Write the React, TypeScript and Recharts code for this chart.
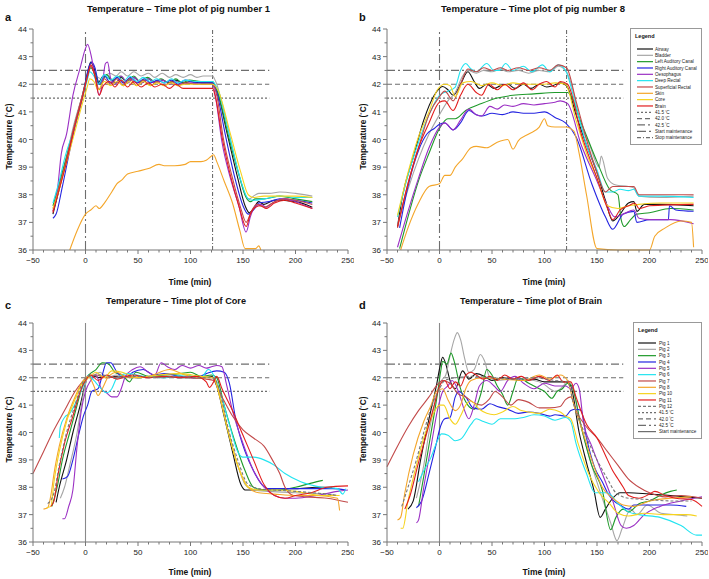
import React from "react";
import { LineChart, Line, XAxis, YAxis, ReferenceLine, Legend } from "recharts";

const FONT = "'Liberation Sans', Arial, sans-serif";

const X_TICKS = [-50, -40, -30, -20, -10, 0, 10, 20, 30, 40, 50, 60, 70, 80, 90, 100, 110, 120, 130, 140, 150, 160, 170, 180, 190, 200, 210, 220, 230, 240, 250];
const Y_TICKS = [36, 36.5, 37, 37.5, 38, 38.5, 39, 39.5, 40, 40.5, 41, 41.5, 42, 42.5, 43, 43.5, 44];
const THRESHOLDS = [41.5, 42.0, 42.5];

// colours shared by both legends (site / pig)
const C = {
  black: "#111111",
  grey: "#a6a6a6",
  green: "#1f9a2a",
  blue: "#2424e0",
  purple: "#9b30c4",
  cyan: "#22e4f0",
  brick: "#c24a4a",
  orange: "#f4a62a",
  yellow: "#f6d31e",
  red: "#e21e1e",
  dgrey: "#777777",
};

// ---- panel a: pig number 1 ----
const aAirway = [[-31,37.3],[-25,38.2],[-20,39.0],[-10,40.6],[-3,41.6],[2,42.4],[5,42.8],[8,42.6],[12,42.05],[17,42.3],[23,42.2],[29,42.05],[34,42.25],[40,42.05],[46,42.25],[53,42.05],[60,42.2],[66,42.05],[73,42.15],[80,42.05],[86,42.15],[93,42.05],[100,42.1],[110,42.05],[121,42.05],[125,41.8],[135,40.2],[145,38.6],[152,37.6],[156,37.35],[160,37.5],[165,37.75],[170,37.65],[180,37.8],[200,37.75],[216,37.55]];
const aBladder = [[-31,37.5],[-25,38.4],[-20,39.1],[-10,40.7],[-3,41.6],[2,42.3],[5,42.6],[10,42.3],[15,42.2],[23,42.4],[29,42.3],[34,42.45],[40,42.3],[46,42.45],[53,42.3],[60,42.4],[66,42.25],[73,42.4],[80,42.25],[86,42.35],[93,42.25],[100,42.35],[106,42.25],[112,42.3],[121,42.3],[124,42.1],[135,40.5],[145,38.9],[152,38.0],[156,37.85],[160,37.95],[165,38.05],[175,38.05],[185,38.1],[200,38.05],[216,37.95]];
const aLeftAud = [[-31,37.6],[-25,38.4],[-20,39.1],[-10,40.5],[-3,41.5],[2,42.3],[5,42.6],[10,42.3],[14,42.0],[20,42.35],[26,42.15],[33,42.3],[39,42.1],[46,42.3],[52,42.1],[59,42.25],[66,42.1],[72,42.2],[79,42.05],[86,42.2],[92,42.05],[99,42.15],[110,42.1],[121,42.1],[125,41.8],[137,40.0],[147,38.6],[153,37.9],[157,37.75],[162,37.85],[170,37.85],[185,37.95],[200,37.85],[216,37.75]];
const aRightAud = [[-31,37.15],[-28,37.3],[-22,38.3],[-15,39.6],[-8,40.8],[-2,41.7],[3,42.6],[6,42.8],[9,42.6],[13,42.0],[18,42.3],[24,42.05],[30,42.25],[36,42.05],[43,42.25],[49,42.05],[56,42.2],[62,42.05],[69,42.15],[75,42.05],[82,42.15],[88,42.0],[95,42.15],[105,42.05],[121,42.05],[125,41.7],[133,40.2],[143,38.5],[150,37.6],[155,37.3],[160,37.45],[165,37.7],[175,37.75],[185,37.85],[200,37.8],[216,37.7]];
const aOesoph = [[-31,37.4],[-27,38.1],[-23,39.5],[-18,40.2],[-12,41.6],[-5,42.6],[0,43.3],[2,43.45],[5,43.1],[9,42.3],[13,41.6],[16,42.0],[19,42.75],[21,42.8],[24,42.2],[28,42.0],[34,42.3],[40,42.05],[46,42.25],[53,42.05],[60,42.2],[66,42.05],[73,42.15],[80,42.0],[86,42.1],[93,42.0],[100,42.05],[110,42.0],[121,42.0],[124,41.5],[130,39.9],[138,38.6],[146,37.6],[153,36.65],[157,37.2],[162,37.6],[167,37.65],[172,37.55],[180,37.75],[190,37.85],[200,37.75],[216,37.5]];
const aDeepRect = [[-31,37.7],[-25,38.5],[-20,39.3],[-10,40.5],[-3,41.5],[2,42.2],[4,42.45],[8,42.3],[12,42.0],[18,42.35],[24,42.15],[30,42.3],[36,42.1],[42,42.3],[49,42.1],[55,42.25],[62,42.1],[68,42.2],[75,42.05],[82,42.2],[88,42.05],[95,42.15],[105,42.1],[121,42.1],[126,41.8],[138,40.0],[148,38.5],[155,37.85],[160,37.8],[170,37.85],[185,37.95],[200,37.9],[216,37.9]];
const aSupRect = [[-31,37.4],[-25,38.3],[-20,39.0],[-10,40.6],[-3,41.6],[2,42.3],[5,42.65],[9,42.3],[13,41.8],[18,42.2],[24,42.0],[30,42.2],[36,41.95],[42,42.2],[49,41.95],[55,42.15],[62,41.95],[68,42.1],[75,41.95],[82,42.1],[88,41.95],[95,42.05],[105,42.0],[121,42.0],[125,41.6],[131,40.1],[140,38.6],[148,37.5],[153,37.0],[158,37.4],[163,37.65],[170,37.55],[180,37.75],[190,37.85],[200,37.8],[216,37.65]];
const aSkin = [[-15,36.0],[-8,36.7],[0,37.3],[5,37.45],[10,37.6],[13,37.5],[18,37.7],[25,38.1],[30,38.4],[35,38.55],[40,38.75],[50,38.85],[60,38.95],[70,39.1],[75,39.05],[85,39.05],[95,39.1],[100,39.2],[110,39.2],[115,39.25],[120,39.4],[122,39.45],[125,39.2],[132,38.5],[140,37.7],[147,36.7],[152,36.05],[158,36.05],[162,36.05],[165,36.15],[167,36.0]];
const aCore = [[-31,37.5],[-25,38.2],[-20,38.9],[-10,40.3],[-3,41.3],[2,41.95],[4,42.2],[8,42.1],[12,41.8],[18,42.1],[24,41.95],[30,42.1],[36,41.95],[42,42.1],[49,41.95],[55,42.1],[62,41.95],[68,42.05],[75,41.95],[82,42.05],[88,41.95],[95,42.0],[110,42.0],[121,42.0],[126,41.8],[138,40.2],[148,38.8],[155,38.0],[160,37.9],[170,37.95],[185,37.95],[200,37.95],[216,37.9]];
const aBrain = [[-31,37.35],[-25,38.2],[-20,38.9],[-10,40.5],[-3,41.5],[2,42.3],[5,42.7],[9,42.3],[13,41.6],[17,41.95],[23,42.1],[28,41.9],[34,42.15],[40,41.9],[46,42.1],[53,41.9],[60,42.05],[66,41.9],[73,42.0],[80,41.85],[86,42.0],[93,41.85],[100,41.85],[110,41.85],[121,41.85],[124,41.5],[130,40.1],[138,38.7],[146,37.6],[153,36.85],[157,37.3],[162,37.55],[167,37.6],[172,37.5],[180,37.7],[190,37.8],[200,37.7],[216,37.5]];

// ---- panel b: pig number 8 ----
const bAirway = [[-40,36.85],[-35,38.0],[-25,39.35],[-15,40.7],[-5,41.6],[3,41.92],[8,41.8],[13,41.6],[20,42.0],[27,42.45],[33,42.1],[38,41.85],[45,42.0],[52,41.85],[58,41.95],[65,42.0],[72,41.85],[80,42.0],[87,41.85],[95,42.0],[102,41.9],[108,41.95],[115,42.05],[121,41.95],[130,40.9],[140,39.8],[150,38.8],[158,37.8],[165,37.05],[172,37.3],[180,37.7],[185,37.75],[188,37.4],[195,37.65],[210,37.65],[242,37.6]];
const bBladder = [[-40,36.9],[-30,38.2],[-20,39.3],[-10,40.2],[0,40.9],[8,41.4],[15,41.7],[22,42.3],[27,42.5],[35,42.4],[42,42.5],[50,42.45],[58,42.55],[65,42.45],[75,42.5],[85,42.4],[95,42.5],[105,42.45],[113,42.65],[121,42.45],[127,41.8],[134,40.6],[143,39.8],[152,39.0],[154,39.4],[160,38.6],[168,38.35],[180,38.3],[185,38.25],[190,37.95],[210,37.9],[242,37.95]];
const bLeftAud = [[-38,36.05],[-30,37.2],[-20,38.5],[-10,39.5],[0,40.4],[8,40.75],[15,40.75],[25,41.05],[40,41.3],[55,41.5],[70,41.6],[90,41.65],[110,41.7],[122,41.7],[135,40.6],[150,39.2],[162,38.2],[170,38.0],[173,37.1],[176,36.85],[182,37.1],[188,37.3],[200,37.35],[220,37.5],[242,37.45]];
const bRightAud = [[-38,36.8],[-30,38.3],[-20,39.6],[-12,40.2],[-5,40.4],[0,40.55],[5,40.6],[13,40.35],[20,40.6],[28,41.05],[35,40.9],[40,40.85],[50,40.95],[60,40.9],[70,41.0],[80,40.95],[90,40.95],[100,41.0],[110,40.8],[120,40.6],[130,40.1],[145,38.4],[158,37.2],[165,36.75],[175,37.3],[185,37.4],[188,37.0],[200,37.1],[218,37.1],[219,37.6],[225,37.45],[242,37.4]];
const bOesoph = [[-40,36.1],[-30,37.4],[-20,38.6],[-10,39.7],[0,40.45],[5,40.6],[13,40.35],[20,40.7],[28,41.1],[35,40.9],[40,40.85],[48,41.2],[55,41.1],[62,41.25],[70,41.2],[80,41.3],[90,41.25],[100,41.3],[110,41.35],[115,41.4],[122,41.3],[135,39.8],[150,38.5],[160,37.6],[167,37.2],[175,37.3],[185,37.45],[190,37.15],[200,37.1],[220,37.1],[242,36.95]];
const bDeepRect = [[-40,37.2],[-30,38.7],[-20,39.9],[-10,40.9],[0,41.6],[8,41.75],[15,41.9],[20,42.5],[25,42.75],[30,42.55],[35,42.45],[45,42.75],[52,42.5],[57,42.5],[63,42.75],[70,42.5],[80,42.65],[88,42.45],[98,42.7],[105,42.45],[113,42.7],[120,42.5],[130,41.2],[140,39.8],[150,38.9],[158,38.1],[165,38.1],[172,38.2],[180,38.15],[185,38.2],[190,37.95],[210,37.95],[242,37.9]];
const bSupRect = [[-40,36.8],[-30,38.4],[-20,39.7],[-10,40.9],[0,41.55],[5,41.75],[13,41.4],[20,42.0],[27,42.55],[35,42.45],[42,42.6],[50,42.5],[58,42.6],[65,42.5],[75,42.6],[85,42.5],[95,42.6],[105,42.5],[113,42.7],[121,42.6],[130,41.4],[140,40.0],[150,38.8],[158,38.1],[165,38.3],[175,38.3],[185,38.3],[190,38.0],[210,38.0],[242,38.0]];
const bSkin = [[-37,36.0],[-30,36.8],[-20,37.7],[-10,38.3],[0,38.4],[5,38.7],[10,38.7],[15,39.0],[22,39.3],[30,39.7],[35,39.75],[45,39.7],[55,39.9],[65,40.0],[70,39.65],[75,39.95],[85,40.2],[95,40.45],[100,40.75],[103,40.5],[110,40.45],[120,40.45],[128,40.3],[133,39.5],[140,38.0],[150,36.05],[170,36.0],[190,36.0],[200,36.0],[205,36.5],[215,36.8],[230,37.05],[240,37.0],[242,36.1]];
const bCore = [[-40,37.25],[-30,38.8],[-20,40.1],[-10,41.0],[-2,41.8],[5,42.0],[10,41.95],[15,41.55],[22,42.05],[30,42.1],[40,41.95],[50,42.05],[60,41.95],[70,42.05],[80,42.0],[90,42.0],[100,42.0],[110,42.05],[120,42.0],[130,40.7],[140,39.5],[150,38.6],[160,37.6],[170,37.5],[180,37.6],[190,37.65],[210,37.7],[242,37.7]];
const bBrain = [[-40,36.85],[-30,38.4],[-20,39.7],[-10,40.6],[0,41.35],[5,41.4],[13,41.05],[20,41.6],[27,42.0],[35,41.7],[40,41.6],[47,42.0],[55,41.8],[62,42.0],[70,41.8],[80,42.05],[88,41.8],[95,42.0],[102,42.1],[110,41.9],[115,42.1],[122,42.0],[135,40.2],[150,38.6],[160,37.5],[165,37.1],[172,37.45],[180,37.6],[186,37.7],[190,37.5],[200,37.6],[242,37.65]];

// ---- panel c: core temperature, all pigs ----
const cPig1 = [[-28,37.45],[-25,38.0],[-18,39.0],[-12,40.0],[-5,41.0],[0,41.8],[3,42.1],[8,42.05],[15,42.0],[30,42.05],[50,42.0],[70,42.05],[90,42.0],[110,42.0],[120,42.05],[125,41.7],[132,40.6],[140,39.3],[148,38.1],[152,37.9],[165,37.9],[180,37.95],[200,37.95],[220,38.0],[235,38.0]];
const cPig2 = [[-24,37.6],[-20,38.0],[-15,38.8],[-8,40.0],[-3,41.2],[2,42.0],[8,42.1],[14,42.2],[20,42.0],[30,42.1],[50,42.0],[70,42.05],[90,42.0],[110,42.05],[122,42.0],[127,41.5],[135,40.2],[145,38.8],[152,38.1],[160,37.9],[175,37.85],[200,37.8],[230,37.75],[240,37.7]];
const cPig3 = [[-32,37.3],[-27,38.0],[-22,39.0],[-15,40.0],[-8,41.0],[-2,41.8],[3,42.1],[10,42.3],[16,42.55],[22,42.5],[28,42.2],[35,42.1],[42,41.85],[48,42.2],[60,42.05],[75,42.1],[90,42.15],[100,42.2],[110,42.05],[120,42.1],[125,42.0],[132,41.0],[142,39.7],[152,38.6],[160,38.0],[170,37.9],[185,37.9],[200,38.0],[215,38.15],[226,38.25]];
const cPig4 = [[-22,38.3],[-17,38.4],[-12,39.0],[-6,40.0],[-2,40.6],[2,41.0],[6,41.5],[12,41.6],[16,42.1],[20,42.55],[24,42.55],[30,42.2],[38,42.0],[45,42.2],[55,42.3],[65,42.1],[75,42.15],[90,42.05],[105,42.0],[115,42.15],[125,42.25],[132,42.2],[137,41.8],[143,40.5],[152,39.3],[160,38.6],[168,38.1],[175,37.95],[190,37.95],[210,37.95],[235,37.95],[248,37.9]];
const cPig5 = [[-22,36.85],[-20,36.85],[-16,37.3],[-12,37.9],[-8,39.5],[-4,40.8],[0,41.5],[5,41.9],[10,42.1],[15,41.6],[20,41.45],[25,41.3],[30,41.3],[34,41.6],[38,42.05],[45,42.3],[52,42.4],[60,42.2],[66,42.1],[72,42.55],[78,42.4],[85,42.3],[92,42.45],[100,42.35],[108,42.45],[115,42.35],[120,42.4],[125,42.45],[130,42.4],[134,41.8],[140,40.8],[150,39.6],[160,38.6],[170,38.0],[180,37.7],[190,37.6],[200,37.6],[220,37.7],[240,37.85],[250,37.9]];
const cPig6 = [[-25,39.8],[-24,40.2],[-20,40.55],[-15,40.7],[-8,41.2],[-2,41.7],[3,42.1],[8,41.9],[15,41.6],[20,41.45],[25,41.6],[30,42.0],[40,42.15],[55,42.05],[75,42.0],[95,42.1],[110,42.0],[117,42.3],[122,42.1],[128,41.5],[137,40.3],[145,39.3],[150,39.1],[160,39.1],[170,39.0],[180,38.8],[190,38.5],[205,38.2],[225,38.0],[240,37.95],[245,37.75],[248,37.95]];
const cPig7 = [[-50,38.5],[-40,39.3],[-30,40.1],[-20,40.8],[-10,41.5],[-3,41.85],[3,42.05],[10,42.1],[20,42.0],[40,42.05],[60,42.0],[80,42.05],[100,42.0],[115,41.95],[122,41.9],[130,41.3],[140,40.6],[150,40.1],[160,39.8],[170,39.5],[178,39.0],[185,38.5],[190,38.0],[198,37.7],[210,37.65],[230,37.6],[250,37.45]];
const cPig8 = [[-40,37.2],[-36,37.25],[-33,37.7],[-30,38.5],[-25,39.5],[-18,40.5],[-10,41.3],[-3,41.85],[3,42.05],[8,41.7],[12,41.35],[16,41.6],[22,42.05],[30,42.2],[40,42.0],[60,42.05],[80,42.3],[95,42.1],[110,42.0],[122,42.0],[128,41.3],[135,40.2],[145,38.8],[155,38.0],[165,37.8],[180,37.75],[200,37.7],[220,37.7],[240,37.6],[242,37.15]];
const cPig10 = [[-37,37.25],[-33,37.3],[-30,38.2],[-25,39.3],[-18,40.4],[-10,41.2],[-3,41.8],[3,42.0],[10,42.2],[18,42.0],[25,42.25],[35,42.2],[50,42.0],[70,42.1],[90,42.15],[110,42.05],[122,42.0],[128,41.3],[136,40.0],[145,38.8],[155,38.0],[165,37.9],[180,37.9],[200,37.85],[225,37.7],[242,37.7]];
const cPig11 = [[-33,37.3],[-30,37.5],[-26,38.5],[-20,39.6],[-12,40.6],[-5,41.5],[0,41.9],[5,42.1],[12,41.9],[20,42.1],[30,41.95],[45,42.1],[60,42.0],[75,42.05],[90,42.0],[105,42.05],[115,41.85],[118,41.65],[122,41.85],[125,42.05],[130,41.6],[140,40.8],[150,39.9],[160,39.0],[170,38.1],[180,37.7],[190,37.6],[200,37.7],[215,37.8],[230,38.0],[250,38.05]];
const cPig12 = [[-36,37.4],[-30,37.8],[-25,38.8],[-18,40.0],[-10,41.0],[-3,41.8],[3,42.05],[15,42.1],[30,42.0],[50,42.05],[70,42.0],[90,42.05],[110,42.0],[122,42.0],[128,41.5],[135,40.3],[145,39.0],[155,38.1],[165,37.95],[180,37.9],[200,37.85],[230,37.75],[240,37.7]];

// ---- panel d: brain temperature, all pigs ----
const dPig1 = [[-30,37.2],[-25,37.5],[-18,39.0],[-10,40.5],[-3,41.7],[1,42.5],[3,42.75],[6,42.5],[10,41.9],[15,41.6],[22,42.25],[28,41.95],[35,42.15],[43,42.05],[50,41.9],[60,42.0],[70,41.95],[80,41.9],[90,41.95],[100,41.85],[110,41.85],[120,41.85],[125,41.7],[133,40.0],[140,38.9],[147,37.9],[153,36.9],[158,37.2],[165,37.6],[172,37.8],[180,37.8],[200,37.75],[220,37.7],[235,37.65],[250,37.6]];
const dPig2 = [[-22,37.6],[-15,38.8],[-10,40.0],[-3,41.3],[2,41.9],[6,42.1],[10,42.8],[14,43.4],[17,43.65],[20,43.4],[24,42.7],[28,42.2],[33,42.3],[39,42.85],[43,42.6],[48,42.0],[55,41.9],[70,41.95],[90,41.9],[100,41.75],[105,41.6],[110,41.5],[118,41.7],[122,41.9],[126,41.7],[135,40.2],[145,38.8],[155,37.6],[163,36.7],[169,36.05],[174,36.5],[182,37.2],[188,37.0],[198,37.35],[211,37.05],[225,37.0],[236,36.95]];
const dPig3 = [[-20,37.3],[-15,38.4],[-8,40.0],[-2,41.4],[1,42.2],[3,42.6],[7,42.5],[11,42.9],[14,42.6],[20,41.6],[27,41.0],[33,40.85],[40,41.5],[45,42.3],[50,42.1],[55,41.7],[60,41.4],[65,41.0],[70,41.5],[75,42.0],[85,41.8],[95,41.6],[100,41.5],[107,41.25],[112,41.5],[117,41.6],[122,41.8],[126,41.7],[135,40.2],[145,38.8],[155,37.9],[163,36.45],[168,36.9],[175,37.2],[180,37.1],[190,37.4],[200,37.5],[210,37.7],[220,37.85],[226,37.9]];
const dPig4 = [[-22,37.25],[-17,37.5],[-10,38.5],[-3,39.6],[0,40.1],[5,40.5],[10,40.55],[15,41.3],[18,41.5],[25,41.3],[32,40.9],[40,40.85],[48,41.05],[55,40.95],[65,40.85],[75,40.7],[85,40.75],[95,40.7],[105,40.6],[110,40.65],[120,40.6],[125,40.8],[130,40.85],[135,40.8],[140,39.8],[148,38.7],[155,38.2],[160,37.8],[166,37.5],[172,37.35],[180,37.2],[185,37.35],[200,37.35],[220,37.35],[235,37.3]];
const dPig5 = [[-22,36.7],[-20,36.8],[-15,38.0],[-8,39.5],[-2,40.8],[3,41.5],[8,41.7],[12,41.9],[18,41.5],[23,40.9],[28,40.5],[33,41.0],[38,41.7],[45,41.9],[52,41.7],[58,41.5],[65,41.9],[72,42.05],[80,41.8],[90,41.6],[100,41.8],[110,41.7],[120,41.7],[125,41.6],[130,41.8],[133,41.6],[137,40.4],[145,39.5],[155,38.5],[165,37.5],[173,36.6],[178,36.5],[185,36.6],[195,37.0],[210,37.3],[230,37.5],[250,37.65]];
const dPig6 = [[-20,38.2],[-15,38.6],[-8,39.1],[-2,39.7],[2,39.95],[8,39.9],[15,39.7],[20,39.75],[30,40.3],[35,40.5],[42,40.4],[50,40.3],[58,40.5],[70,40.5],[80,40.55],[90,40.65],[100,40.6],[110,40.45],[120,40.55],[125,40.4],[130,39.6],[140,38.5],[148,37.8],[160,37.8],[170,37.4],[180,37.1],[190,37.0],[210,36.9],[230,36.6],[245,36.25],[250,36.25]];
const dPig7 = [[-50,38.75],[-40,39.5],[-30,40.2],[-20,40.8],[-10,41.3],[-3,41.7],[3,41.9],[10,41.8],[18,41.4],[25,41.3],[32,41.1],[40,41.0],[47,41.2],[53,41.5],[60,41.3],[68,41.0],[75,41.2],[85,41.1],[95,40.9],[105,40.9],[115,40.95],[120,41.2],[125,41.3],[130,40.8],[140,40.2],[150,39.8],[160,39.3],[170,38.8],[180,38.3],[190,38.0],[200,37.8],[215,37.65],[230,37.7],[250,37.6]];
const dPig8 = [[-40,36.8],[-37,36.9],[-33,37.8],[-25,39.2],[-15,40.4],[-8,41.0],[-3,41.5],[3,41.6],[8,41.2],[15,40.8],[20,41.0],[25,41.6],[30,41.9],[40,42.0],[60,41.95],[80,41.9],[95,42.1],[105,41.95],[115,42.1],[122,41.9],[128,41.0],[135,40.2],[145,39.0],[155,38.0],[165,37.6],[175,37.35],[185,37.3],[200,37.5],[220,37.6],[240,37.65]];
const dPig10 = [[-37,36.5],[-35,36.5],[-30,37.5],[-22,38.8],[-15,39.8],[-8,40.5],[0,41.0],[4,41.0],[10,40.5],[15,40.3],[20,40.6],[25,41.0],[30,41.15],[38,40.85],[45,40.7],[52,40.65],[60,40.75],[70,40.95],[78,40.8],[85,40.75],[95,40.7],[105,40.85],[115,40.75],[120,40.6],[125,40.5],[132,39.6],[142,38.5],[152,37.8],[162,37.4],[170,37.05],[180,36.95],[195,37.05],[215,37.0],[235,37.0],[245,36.95]];
const dPig11 = [[-33,37.2],[-28,37.7],[-20,38.9],[-12,40.0],[-5,41.0],[0,41.7],[5,41.9],[10,41.6],[15,41.85],[20,41.7],[25,42.1],[30,42.2],[35,42.1],[42,41.95],[48,42.05],[55,41.9],[62,42.1],[70,41.95],[78,42.05],[85,41.9],[95,42.05],[105,41.9],[112,42.1],[118,41.85],[125,41.85],[130,41.3],[140,40.3],[150,39.8],[160,39.0],[165,38.6],[170,38.3],[175,38.0],[180,37.7],[190,37.6],[200,37.75],[205,37.85],[215,37.7],[225,37.6],[240,37.55],[250,37.3]];
const dPig12 = [[-36,37.3],[-30,38.0],[-22,39.0],[-15,40.0],[-8,40.9],[0,41.6],[5,41.9],[15,42.0],[30,42.05],[50,42.0],[70,41.95],[90,42.0],[110,41.9],[122,41.85],[128,41.0],[138,40.0],[150,39.0],[160,38.3],[168,37.8],[180,37.6],[200,37.55],[220,37.5],[240,37.5]];

type Series = { name: string; color: string; dash?: string; data: number[][] };

const SITES = ["Airway", "Bladder", "Left Auditory Canal", "Right Auditory Canal", "Oesophagus", "Deep Rectal", "Superficial Rectal", "Skin", "Core", "Brain"];
const PIGS = ["Pig 1", "Pig 2", "Pig 3", "Pig 4", "Pig 5", "Pig 6", "Pig 7", "Pig 8", "Pig 10", "Pig 11", "Pig 12"];
const SITE_COLORS = [C.black, C.grey, C.green, C.blue, C.purple, C.cyan, C.brick, C.orange, C.yellow, C.red];
const PIG_COLORS = [C.black, C.grey, C.green, C.blue, C.purple, C.cyan, C.brick, C.orange, C.yellow, C.red, C.dgrey];

const siteSeries = (arrs: number[][][]): Series[] =>
  arrs.map((d, i) => ({ name: SITES[i], color: SITE_COLORS[i], data: d }));
const pigSeries = (arrs: number[][][]): Series[] =>
  arrs.map((d, i) => ({ name: PIGS[i], color: PIG_COLORS[i], dash: i === 10 ? "3 2" : undefined, data: d }));

const seriesA = siteSeries([aAirway, aBladder, aLeftAud, aRightAud, aOesoph, aDeepRect, aSupRect, aSkin, aCore, aBrain]);
const seriesB = siteSeries([bAirway, bBladder, bLeftAud, bRightAud, bOesoph, bDeepRect, bSupRect, bSkin, bCore, bBrain]);
const seriesC = pigSeries([cPig1, cPig2, cPig3, cPig4, cPig5, cPig6, cPig7, cPig8, cPig10, cPig11, cPig12]);
const seriesD = pigSeries([dPig1, dPig2, dPig3, dPig4, dPig5, dPig6, dPig7, dPig8, dPig10, dPig11, dPig12]);

const REF = "#6e6e6e";
const DASH_415 = "2 2";
const DASH_420 = "5 3";
const DASH_425 = "8 3 2 3";
const DASH_START = "9 3 2 3";
const DASH_STOP = "4 2 1 2";

function XTick({ x, y, payload }: any) {
  const v = payload.value;
  const major = v % 50 === 0;
  return (
    <g>
      <line x1={x} x2={x} y1={y} y2={y + (major ? 4 : 2.5)} stroke="#777" />
      {major && (
        <text x={x} y={y + 13} textAnchor="middle" fontSize={8} fontFamily={FONT} fill="#222">
          {v < 0 ? `\u2212${-v}` : v}
        </text>
      )}
    </g>
  );
}

function YTick({ x, y, payload }: any) {
  const v = payload.value;
  const major = Number.isInteger(v);
  return (
    <g>
      <line x1={x} x2={x - (major ? 4 : 2.5)} y1={y} y2={y} stroke="#777" />
      {major && (
        <text x={x - 6} y={y + 3} textAnchor="end" fontSize={8} fontFamily={FONT} fill="#222">
          {v}
        </text>
      )}
    </g>
  );
}

type LegendItem = { label: string; color: string; dash?: string; deg?: boolean; width?: number };

function LegendBox({ items, w, h, x0, x1, tx }: { items: LegendItem[]; w: number; h: number; x0: number; x1: number; tx: number }) {
  return (
    <svg width={w} height={h} style={{ display: "block" }}>
      <rect x={0.5} y={0.5} width={w - 1} height={h - 1} fill="#fff" stroke="#999" />
      <text x={5} y={10} fontSize={5.5} fontWeight="bold" fontFamily={FONT} fill="#111">Legend</text>
      {items.map((it, i) => {
        const y = 21 + i * 6.33;
        return (
          <g key={it.label}>
            <line x1={x0} x2={x1} y1={y} y2={y} stroke={it.color} strokeWidth={it.width || 1.2} strokeDasharray={it.dash} />
            <text x={tx} y={y + 1.7} fontSize={4.6} fontFamily={FONT} fill="#222">
              {it.label}
              {it.deg && <tspan dy={-1.5} fontSize={3.5}>{" \u00b0"}</tspan>}
              {it.deg && <tspan dy={1.5}>C</tspan>}
            </text>
          </g>
        );
      })}
    </svg>
  );
}

const legendB: LegendItem[] = [
  ...seriesB.map((s) => ({ label: s.name, color: s.color })),
  { label: "41.5", color: REF, dash: DASH_415, deg: true },
  { label: "42.0", color: REF, dash: DASH_420, deg: true },
  { label: "42.5", color: REF, dash: DASH_425, deg: true },
  { label: "Start maintenance", color: REF, dash: DASH_START },
  { label: "Stop maintenance", color: REF, dash: DASH_STOP },
];
const legendD: LegendItem[] = [
  ...seriesD.map((s) => ({ label: s.name, color: s.color, dash: s.dash })),
  { label: "41.5", color: REF, dash: DASH_415, deg: true },
  { label: "42.0", color: REF, dash: DASH_420, deg: true },
  { label: "42.5", color: REF, dash: DASH_425, deg: true },
  { label: "Start maintenance", color: REF },
];

type PanelProps = {
  left: number;
  top: number;
  letter: string;
  letterY: number;
  title: string;
  titleX: number;
  titleY: number;
  titleW: number;
  plotTop: number;
  plotBottom: number;
  series: Series[];
  withStop: boolean;
  legend?: { items: LegendItem[]; left: number; top: number; w: number; h: number; x0: number; x1: number; tx: number };
};

function Panel({ left, top, letter, letterY, title, titleX, titleY, titleW, plotTop, plotBottom, series, withStop, legend }: PanelProps) {
  const W = 354;
  const H = 290;
  const plotMid = (plotTop + plotBottom) / 2;
  return (
    <div style={{ position: "absolute", left, top, width: W, height: H }}>
      <LineChart width={W} height={H} margin={{ top: plotTop, right: 6, bottom: 0, left: 0 }}>
        <XAxis
          type="number"
          dataKey="x"
          domain={[-50, 250]}
          ticks={X_TICKS}
          interval={0}
          tick={<XTick />}
          tickLine={false}
          tickSize={0}
          tickMargin={0}
          height={H - plotBottom}
          stroke="#777"
          allowDuplicatedCategory={false}
        />
        <YAxis
          type="number"
          domain={[36, 44]}
          ticks={Y_TICKS}
          interval={0}
          tick={<YTick />}
          tickLine={false}
          tickSize={0}
          tickMargin={0}
          width={33}
          stroke="#777"
        />
        {THRESHOLDS.map((t, i) => (
          <ReferenceLine
            key={t}
            segment={[{ x: -50, y: t }, { x: 175, y: t }]}
            stroke={REF}
            strokeWidth={1.2}
            strokeDasharray={[DASH_415, DASH_420, DASH_425][i]}
          />
        ))}
        {withStop ? (
          <ReferenceLine x={0} stroke={REF} strokeWidth={1.1} strokeDasharray={DASH_START} />
        ) : (
          <ReferenceLine x={0} stroke="#8a8a8a" strokeWidth={1.1} />
        )}
        {withStop && <ReferenceLine x={121} stroke={REF} strokeWidth={1.1} strokeDasharray={DASH_STOP} />}
        {series.map((s) => (
          <Line
            key={s.name}
            name={s.name}
            data={s.data.map(([x, y]) => ({ x, y }))}
            dataKey="y"
            type="monotone"
            stroke={s.color}
            strokeWidth={1.1}
            strokeDasharray={s.dash}
            dot={false}
            activeDot={false}
            isAnimationActive={false}
          />
        ))}
        {legend && (
          <Legend
            layout="vertical"
            align="center"
            verticalAlign="middle"
            wrapperStyle={{ left: legend.left, top: legend.top, width: legend.w, height: legend.h }}
            content={() => (
              <LegendBox items={legend.items} w={legend.w} h={legend.h} x0={legend.x0} x1={legend.x1} tx={legend.tx} />
            )}
          />
        )}
      </LineChart>
      <svg width={W} height={H} style={{ position: "absolute", left: 0, top: 0, pointerEvents: "none" }}>
        <text x={titleX} y={titleY} fontSize={9.5} fontWeight="bold" fontFamily={FONT} fill="#111" textLength={titleW} lengthAdjust="spacingAndGlyphs">
          {title}
        </text>
        <text x={5} y={letterY} fontSize={11} fontWeight="bold" fontFamily={FONT} fill="#111">
          {letter}
        </text>
        <text x={190} y={H - 5} textAnchor="middle" fontSize={8.5} fontWeight="bold" fontFamily={FONT} fill="#111">
          Time (min)
        </text>
        <text
          x={0}
          y={0}
          transform={`translate(12, ${plotMid + 30}) rotate(-90)`}
          fontSize={8.5}
          fontWeight="bold"
          fontFamily={FONT}
          fill="#111"
          textLength={66}
          lengthAdjust="spacingAndGlyphs"
        >
          Temperature (
          <tspan dy={-2.5} fontSize={6}>{"\u00b0"}</tspan>
          <tspan dy={2.5}>C)</tspan>
        </text>
      </svg>
    </div>
  );
}

export default function App() {
  return (
    <div style={{ position: "absolute", left: 0, top: 0, width: 709, height: 579, background: "#fff", overflow: "hidden" }}>
      <Panel
        left={0}
        top={0}
        letter="a"
        letterY={21}
        title={"Temperature  \u2013  Time plot of pig number 1"}
        titleX={87}
        titleY={11.5}
        titleW={183}
        plotTop={29}
        plotBottom={250}
        series={seriesA}
        withStop
      />
      <Panel
        left={354}
        top={0}
        letter="b"
        letterY={21}
        title={"Temperature  \u2013  Time plot of pig number 8"}
        titleX={87}
        titleY={11.5}
        titleW={184}
        plotTop={29}
        plotBottom={250}
        series={seriesB}
        withStop
        legend={{ items: legendB, left: 276, top: 28, w: 72, h: 117, x0: 7, x1: 23, tx: 25 }}
      />
      <Panel
        left={0}
        top={290}
        letter="c"
        letterY={19}
        title={"Temperature  \u2013  Time plot of Core"}
        titleX={106}
        titleY={14}
        titleW={140}
        plotTop={33}
        plotBottom={252}
        series={seriesC}
        withStop={false}
      />
      <Panel
        left={354}
        top={290}
        letter="d"
        letterY={19}
        title={"Temperature  \u2013  Time plot of Brain"}
        titleX={106}
        titleY={14}
        titleW={142}
        plotTop={33}
        plotBottom={252}
        series={seriesD}
        withStop={false}
        legend={{ items: legendD, left: 279, top: 32, w: 69, h: 117, x0: 5, x1: 23, tx: 26 }}
      />
    </div>
  );
}
